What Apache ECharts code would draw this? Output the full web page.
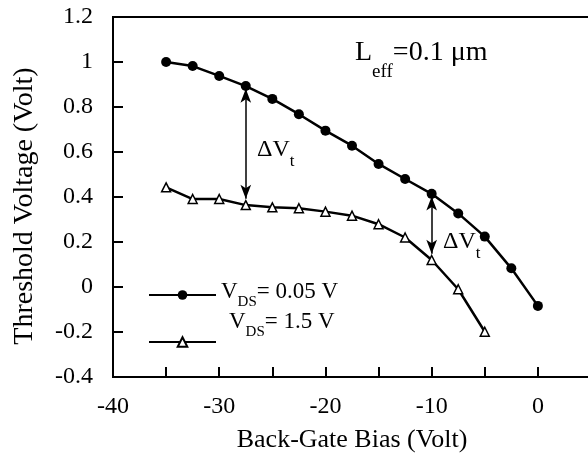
<!DOCTYPE html>
<html>
<head>
<meta charset="utf-8">
<script src="https://cdn.jsdelivr.net/npm/echarts@6/dist/echarts.min.js"></script>
<style>html,body{margin:0;padding:0;background:#fff}#c{width:588px;height:461px}</style>
</head>
<body>
<div id="c"></div>
<script>
// Data
const biasA = [-35, -32.5, -30, -27.5, -25, -22.5, -20, -17.5, -15, -12.5, -10, -7.5, -5, -2.5, 0];
const vtLowVds = [1.00, 0.982, 0.938, 0.893, 0.836, 0.768, 0.695, 0.628, 0.547, 0.480, 0.414, 0.327, 0.224, 0.083, -0.084];
const biasB = [-35, -32.5, -30, -27.5, -25, -22.5, -20, -17.5, -15, -12.5, -10, -7.5, -5];
const vtHighVds = [0.443, 0.391, 0.391, 0.364, 0.354, 0.350, 0.335, 0.317, 0.279, 0.220, 0.120, -0.010, -0.199];
const arrowBias = [-27.5, -10];
const yTicks = [-0.4, -0.2, 0, 0.2, 0.4, 0.6, 0.8, 1, 1.2];
const xTickLabels = [-40, -30, -20, -10, 0];
const seriesNames = ['VDS= 0.05 V', 'VDS= 1.5 V'];

const FONT = 'Liberation Serif';
const chart = echarts.init(document.getElementById('c'), null, {renderer: 'canvas'});

function pairs(xs, ys) { return xs.map((x, i) => [x, ys[i]]); }
const arrowLines = arrowBias.map(b => {
  const top = vtLowVds[biasA.indexOf(b)];
  const bot = vtHighVds[biasB.indexOf(b)];
  return [{coord: [b, top - 0.012]}, {coord: [b, bot + 0.028]}];
});

const sub = (drop, big, small) => ({
  a: {fontFamily: FONT, fontSize: big, color: '#000', verticalAlign: 'bottom', padding: [0, 0, drop, 0]},
  s: {fontFamily: FONT, fontSize: small, color: '#000', verticalAlign: 'bottom'}
});

chart.setOption({
  animation: false,
  backgroundColor: '#fff',
  grid: {left: 113, right: -3, top: 17, bottom: 84, show: true, borderColor: '#000', borderWidth: 2,
         containLabel: false, outerBoundsMode: 'none'},
  xAxis: {
    type: 'value', min: -40, max: 5, interval: 5,
    name: 'Back-Gate Bias (Volt)', nameLocation: 'middle', nameGap: 50,
    nameTextStyle: {fontFamily: FONT, fontSize: 26, color: '#000'},
    axisLine: {show: true, onZero: false, lineStyle: {color: '#000', width: 2}},
    axisTick: {show: true, inside: true, length: 10, lineStyle: {color: '#000', width: 2}},
    axisLabel: {show: true, margin: 18, fontFamily: FONT, fontSize: 24, color: '#000',
      showMinLabel: true, showMaxLabel: true, hideOverlap: false,
      formatter: v => xTickLabels.indexOf(v) >= 0 ? String(v) : ''},
    splitLine: {show: false}
  },
  yAxis: {
    type: 'value', min: -0.4, max: 1.2, interval: 0.2,
    name: 'Threshold Voltage (Volt)', nameLocation: 'middle', nameGap: 74, nameRotate: 90,
    nameTextStyle: {fontFamily: FONT, fontSize: 28, color: '#000', padding: [0, 18, 0, 0]},
    axisLine: {show: true, onZero: false, lineStyle: {color: '#000', width: 2}},
    axisTick: {show: true, inside: true, length: 10, lineStyle: {color: '#000', width: 2}},
    axisLabel: {show: true, margin: 20, fontFamily: FONT, fontSize: 24, color: '#000',
      showMinLabel: true, showMaxLabel: true, hideOverlap: false,
      formatter: v => {
        const m = yTicks.find(t => Math.abs(t - v) < 1e-6);
        return m === undefined ? '' : String(m);
      }},
    splitLine: {show: false}
  },
  legend: [
    {
      data: [seriesNames[0]], left: 148, top: 280, orient: 'vertical', selectedMode: false,
      padding: 0, itemWidth: 67, itemHeight: 12, itemGap: 0,
      formatter: () => '{a|V}{s|DS}{a|= 0.05 V}',
      textStyle: {color: '#000', rich: sub(7, 23, 15)}
    },
    {
      data: [seriesNames[1]], left: 148, top: 310, orient: 'vertical', selectedMode: false,
      padding: 0, itemWidth: 67, itemHeight: 12, itemGap: 0,
      formatter: () => '{a|V}{s|DS}{a|= 1.5 V}',
      textStyle: {color: '#000', padding: [0, 0, 34, 8], rich: sub(7, 23, 15)}
    }
  ],
  graphic: [
    {type: 'text', left: 355, top: 39, silent: true,
     style: {text: '{a|L}{s|eff}{a|=0.1 μm}', rich: sub(15, 28, 19)}},
    {type: 'text', left: 257, top: 138, silent: true,
     style: {text: '{a|ΔV}{s|t}', rich: sub(8, 24, 17)}},
    {type: 'text', left: 443, top: 230, silent: true,
     style: {text: '{a|ΔV}{s|t}', rich: sub(8, 24, 17)}}
  ],
  series: [
    {
      name: seriesNames[0], type: 'line', data: pairs(biasA, vtLowVds),
      symbol: 'circle', symbolSize: 10, showAllSymbol: true,
      lineStyle: {color: '#000', width: 2.5},
      itemStyle: {color: '#000', borderColor: '#000', borderWidth: 0},
      markLine: {
        silent: true, symbol: ['arrow', 'arrow'], symbolSize: [8, 14],
        label: {show: false},
        lineStyle: {color: '#000', width: 1.5, type: 'solid'},
        emphasis: {disabled: true},
        data: arrowLines
      }
    },
    {
      name: seriesNames[1], type: 'line', data: pairs(biasB, vtHighVds),
      symbol: 'triangle', symbolSize: 9, showAllSymbol: true,
      lineStyle: {color: '#000', width: 2.5},
      itemStyle: {color: '#fff', borderColor: '#000', borderWidth: 1.5}
    }
  ]
});
</script>
</body>
</html>
